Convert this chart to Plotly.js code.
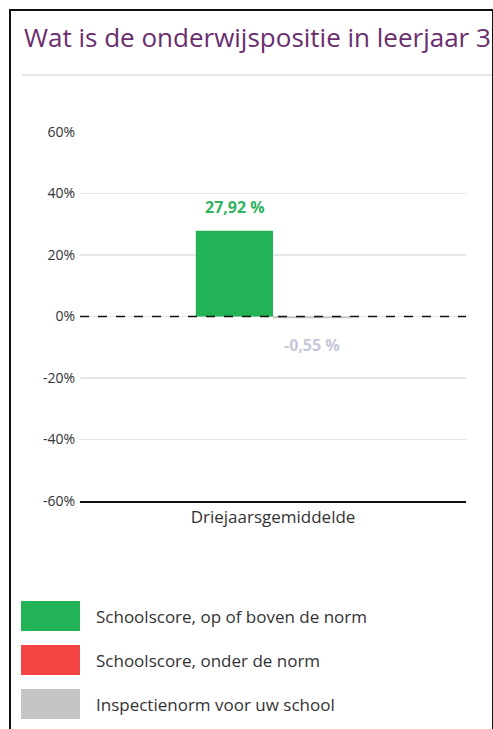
<!DOCTYPE html>
<html>
<head>
<meta charset="utf-8">
<script src="https://cdn.plot.ly/plotly-3.0.1.min.js"></script>
<style>
  html, body { margin: 0; padding: 0; background: #fff; }
  #wrap { position: relative; width: 493px; height: 729px; overflow: hidden; }
  #chart { position: absolute; left: 0; top: 0; width: 493px; height: 729px; }
  #frame { position: absolute; left: 9px; top: 9px; width: 481px; height: 740px;
           border-left: 2px solid #111; border-top: 2px solid #111; border-right: 2px solid #111;
           pointer-events: none; }
</style>
</head>
<body>
<div id="wrap">
  <div id="chart"></div>
  <div id="frame"></div>
</div>
<script>
// ---- data ----
const categories = ["Driejaarsgemiddelde"];
const schoolScore = [27.92];
const inspectieNorm = [-0.55];
const yTickVals = [-60, -40, -20, 0, 20, 40, 60];
const yTickText = ["-60%", "-40%", "-20%", "0%", "20%", "40%", "60%"];
const legendLabels = ["Schoolscore, op of boven de norm", "Schoolscore, onder de norm", "Inspectienorm voor uw school"];
const legendColors = ["#21b355", "#f44545", "#c4c4c4"];
const titleText = "Wat is de onderwijspositie in leerjaar 3";

// ---- layout geometry (pixels) ----
const W = 493, H = 729;
const plotL = 80, plotR = 466, plotT = 132, plotB = 501;
const px = x => (x - plotL) / (plotR - plotL);
const py = y => (plotB - y) / (plotB - plotT);
const FONT = "Open Sans, Lato, sans-serif";
const fmt = v => v.toFixed(2).replace(".", ",") + " %";

const traces = [
  { type: "bar", x: categories, y: schoolScore, marker: { color: legendColors[0] },
    hoverinfo: "none", showlegend: false },
  { type: "bar", x: categories, y: inspectieNorm, marker: { color: legendColors[2] },
    hoverinfo: "none", showlegend: false }
];

const shapes = [
  // zero line dashed
  { type: "line", xref: "paper", yref: "y", x0: 0, x1: 1, y0: 0, y1: 0,
    line: { color: "#111", width: 1.5, dash: "dash" } },
  // separator under title
  { type: "line", xref: "paper", yref: "paper", x0: px(22), x1: px(495), y0: py(75), y1: py(75),
    line: { color: "#dcdcdc", width: 1.5 } }
];
const annotations = [
  { xref: "x", yref: "y", x: categories[0], y: schoolScore[0], xshift: -38.5, yshift: 24,
    text: "<b>" + fmt(schoolScore[0]) + "</b>", showarrow: false,
    font: { family: FONT, size: 16, color: "#2fb45f" } },
  { xref: "x", yref: "y", x: categories[0], y: inspectieNorm[0], xshift: 38.5, yshift: -27,
    text: "<b>" + fmt(inspectieNorm[0]) + "</b>", showarrow: false,
    font: { family: FONT, size: 16, color: "#c6c8da" } }
];
// legend drawn as boxes + labels
const legTops = [601, 645, 689];
legendLabels.forEach((lab, i) => {
  const t = legTops[i];
  shapes.push({ type: "rect", xref: "paper", yref: "paper",
    x0: px(21), x1: px(80), y0: py(t + 30), y1: py(t),
    fillcolor: legendColors[i], line: { width: 0 } });
  annotations.push({ xref: "paper", yref: "paper", x: px(94), y: py(t + 15),
    xanchor: "left", yanchor: "middle", text: lab, showarrow: false,
    font: { family: FONT, size: 17, color: "#333" } });
});

const layout = {
  width: W, height: H,
  margin: { l: plotL, r: W - plotR, t: plotT, b: H - plotB, pad: 0 },
  paper_bgcolor: "#fff", plot_bgcolor: "#fff",
  font: { family: FONT, size: 14, color: "#333" },
  title: { text: titleText, xref: "container", yref: "container", x: 24 / W, xanchor: "left",
           y: 1 - 38 / H, yanchor: "middle", font: { family: FONT, size: 26, color: "#6a2d6e" } },
  barmode: "group", bargap: 0.6, bargroupgap: 0,
  showlegend: false,
  xaxis: { type: "category", showgrid: false, zeroline: false, showline: true,
           linecolor: "#111", linewidth: 2, ticks: "", tickfont: { family: FONT, size: 17, color: "#333" } },
  yaxis: { range: [-60, 60], tickvals: yTickVals, ticktext: yTickText, showgrid: true,
           gridcolor: "#e6e6e6", gridwidth: 1.5, zeroline: false, showline: false, ticks: "",
           ticklabelstandoff: 4, tickfont: { family: FONT, size: 14, color: "#333" } },
  shapes: shapes,
  annotations: annotations
};

Plotly.newPlot("chart", traces, layout, { displayModeBar: false, staticPlot: true });
</script>
</body>
</html>
